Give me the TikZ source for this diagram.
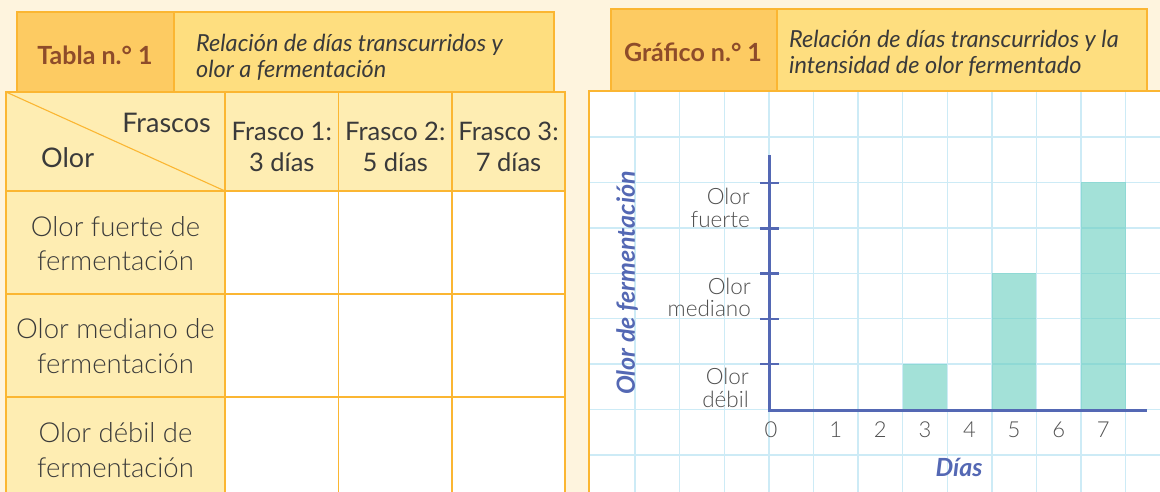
\documentclass[tikz,border=0pt]{standalone}
\usepackage{fontspec}
\setmainfont{Lato}
\newfontfamily\lightfont{Lato Light}
\definecolor{bgcream}{HTML}{FEF4DE}
\definecolor{hdrdark}{HTML}{FDCB62}
\definecolor{hdrlight}{HTML}{FEDE7F}
\definecolor{cellyellow}{HTML}{FEEDB2}
\definecolor{bordero}{HTML}{FBB632}
\definecolor{gridblue}{HTML}{CDEBF6}
\definecolor{axisblue}{HTML}{5468B4}
\definecolor{barteal}{HTML}{66CDBF}
\definecolor{textgray}{HTML}{3A3A3A}
\definecolor{lightgray}{HTML}{505050}
\definecolor{titlebrown}{HTML}{8E4C2A}
\begin{document}
\begin{tikzpicture}[x=1pt,y=-1pt,
  ob/.style={draw=bordero, line width=1.3pt},
  tcell/.style={font=\lightfont\fontsize{27.5}{34.5}\selectfont, text=textgray, align=center, inner sep=0pt},
  hcell/.style={font=\fontsize{25.5}{31}\selectfont, text=textgray, align=center, inner sep=0pt},
  hbig/.style={font=\fontsize{27}{31}\selectfont, text=textgray, inner sep=0pt},
  ttitle/.style={font=\bfseries\fontsize{25}{28}\selectfont, text=titlebrown, inner sep=0pt},
  tsub/.style={font=\itshape\fontsize{23.5}{26}\selectfont, text=textgray, align=left, anchor=west, inner sep=0pt},
  ylab/.style={font=\lightfont\fontsize{22.5}{22.5}\selectfont, text=lightgray, align=right, anchor=east, inner sep=0pt},
  xlab/.style={font=\lightfont\fontsize{22}{24}\selectfont, text=lightgray, inner sep=0pt},
  axtitle/.style={font=\bfseries\itshape\fontsize{25}{28}\selectfont, text=axisblue, inner sep=0pt},
  axline/.style={draw=axisblue, line width=3pt},
  tickline/.style={draw=axisblue, line width=2.5pt},
  gridline/.style={draw=gridblue, line width=1.4pt},
  bar/.style={fill=barteal, fill opacity=0.6}
]
\useasboundingbox (0,0) rectangle (1160,492);
\clip (0,0) rectangle (1160,492);
\fill[bgcream] (0,0) rectangle (1160,492);

% ---------- Left: table ----------
\fill[hdrdark] (17,12) rectangle (174,92);
\fill[hdrlight] (174,12) rectangle (554,92);
\draw[ob] (17,12) rectangle (554,92);
\draw[ob] (174,12) -- (174,92);
\node[ttitle] (tabtitle) at (95,55) {Tabla n.° 1};
\node[tsub] (tabsub) at (196,57) {Relación de días transcurridos y\\olor a fermentación};

\fill[cellyellow] (6,92) rectangle (565,191);
\fill[cellyellow] (6,191) rectangle (225,510);
\fill[white] (225,191) rectangle (565,510);
\foreach \x in {225,338.5,452} \draw[ob] (\x,92) -- (\x,510);
\foreach \y in {191,294,397} \draw[ob] (6,\y) -- (565,\y);
\draw[ob] (6,510) -- (6,92) -- (565,92) -- (565,510);
\draw[bordero, line width=1.1pt] (6,92) -- (225,191);

\node[hbig, anchor=east] (frascos) at (211,123) {Frascos};
\node[hbig, anchor=west] (olor) at (41,158) {Olor};
\node[hcell] (f1) at (281.75,147) {Frasco 1:\\3 días};
\node[hcell] (f2) at (395.25,147) {Frasco 2:\\5 días};
\node[hcell] (f3) at (508.5,147) {Frasco 3:\\7 días};
\node[tcell] (r1) at (115.5,243.5) {Olor fuerte de\\fermentación};
\node[tcell] (r2) at (115.5,346) {Olor mediano de\\fermentación};
\node[tcell] (r3) at (115.5,450) {Olor débil de\\fermentación};

% ---------- Right: chart ----------
\fill[hdrdark] (611,9) rectangle (777,91);
\fill[hdrlight] (777,9) rectangle (1147,91);
\draw[ob] (611,9) rectangle (1147,91);
\draw[ob] (777,9) -- (777,91);
\node[ttitle] (grtitle) at (693,52) {Gráfico n.° 1};
\node[tsub] (grsub) at (789,53) {Relación de días transcurridos y la\\intensidad de olor fermentado};

\fill[white] (589,91) rectangle (1175,510);
\foreach \k in {0,...,11} \draw[gridline] ({635+44.6*\k},92) -- ({635+44.6*\k},510);
\foreach \k in {0,...,7} \draw[gridline] (590,{137+45.4*\k}) -- (1175,{137+45.4*\k});
\draw[ob] (589,510) -- (589,91) -- (1175,91);

\fill[bar] (902.6,364) rectangle (947.2,409.4);
\fill[bar] (991.8,273.2) rectangle (1036.4,409.4);
\fill[bar] (1081,182.4) rectangle (1125.6,409.4);

\foreach \y in {183,228.5,273.5,319,364} \draw[tickline] (760,\y) -- (779,\y);
\draw[axline] (769,155) -- (769,410.5) -- (1147,410.5);

\node[ylab] (yf) at (750,208) {Olor\\fuerte};
\node[ylab] (ym) at (751,297.5) {Olor\\mediano};
\node[ylab] (yd) at (749,388) {Olor\\débil};

\node[xlab] (d0) at (771,430) {0};
\foreach \n/\x in {1/835.7,2/880.3,3/924.9,4/969.5,5/1014.1,6/1058.7,7/1103.3}
  \node[xlab] (d\n) at (\x,430) {\n};

\node[axtitle] (xtitle) at (959,467) {Días};
\node[axtitle, rotate=90] (ytitle) at (627,283) {Olor de fermentación};
\end{tikzpicture}
\end{document}
